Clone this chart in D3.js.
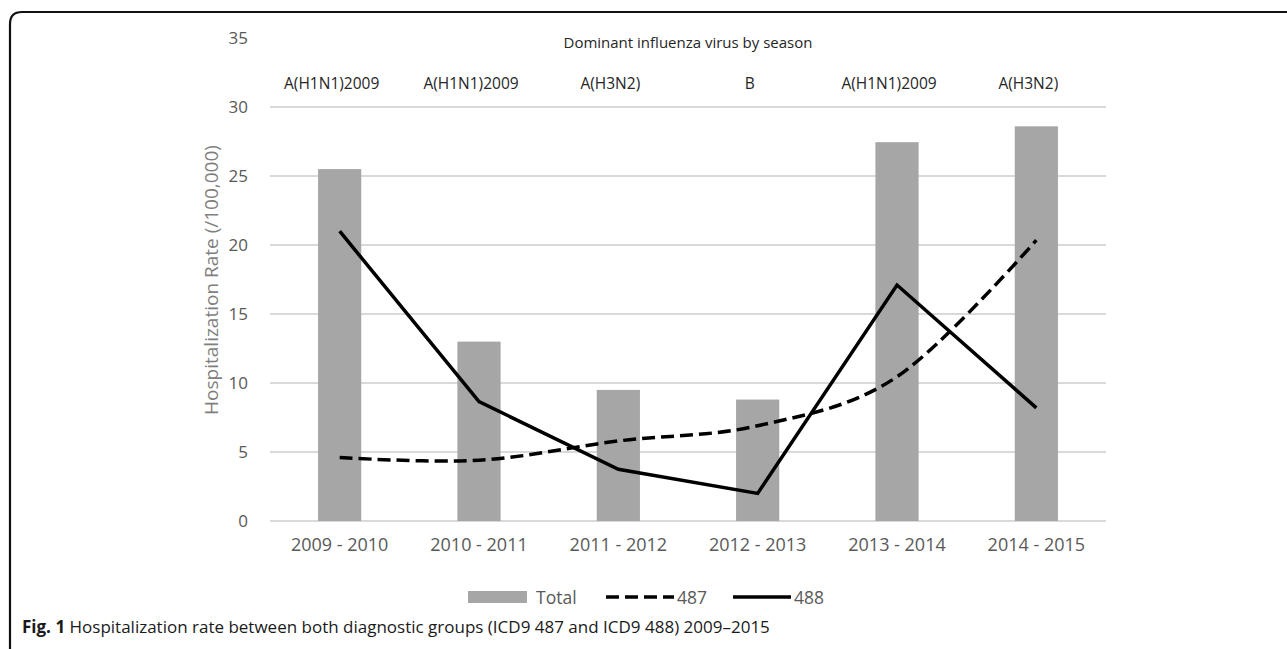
<!DOCTYPE html>
<html lang="en">
<head>
<meta charset="utf-8">
<title>Hospitalization rate</title>
<script src="https://d3js.org/d3.v7.min.js"></script>
<style>
  body { margin: 0; background: #fff; font-family: "Open Sans", "Noto Sans", sans-serif; }
  .grid line { stroke: #d9d9d9; stroke-width: 2px; }
  .tick-label { fill: #595959; }
  .bar { fill: #a6a6a6; }
  .line { fill: none; stroke: #000; stroke-width: 3.5px; }
</style>
</head>
<body>
<script>
  // data
  var seasons = ["2009 - 2010", "2010 - 2011", "2011 - 2012", "2012 - 2013", "2013 - 2014", "2014 - 2015"];
  var viruses = ["A(H1N1)2009", "A(H1N1)2009", "A(H3N2)", "B", "A(H1N1)2009", "A(H3N2)"];
  var total = [25.5, 13.0, 9.5, 8.8, 27.45, 28.6];
  var icd487 = [4.6, 4.4, 5.8, 6.9, 10.45, 20.35];
  var icd488 = [21.0, 8.65, 3.75, 2.0, 17.1, 8.2];
  var yTicks = [0, 5, 10, 15, 20, 25, 30, 35];

  var width = 1287, height = 649;
  var margin = {top: 38, right: 181, bottom: 128, left: 270};

  var svg = d3.select("body").append("svg")
    .attr("width", width)
    .attr("height", height);

  // frame round the figure (only left and top show)
  svg.append("path")
    .attr("d", "M10,660 L10,24 Q10,12 22,12 L1290,12")
    .attr("fill", "none")
    .attr("stroke", "#111")
    .attr("stroke-width", 2.2);

  var x = d3.scaleBand()
    .domain(seasons)
    .range([margin.left, width - margin.right]);

  var y = d3.scaleLinear()
    .domain([0, 35])
    .range([height - margin.bottom, margin.top]);

  // gridlines (no line at 35)
  svg.append("g").attr("class", "grid")
    .selectAll("line")
    .data(yTicks.filter(function(d){ return d < 35; }))
    .enter().append("line")
    .attr("x1", margin.left)
    .attr("x2", width - margin.right)
    .attr("y1", function(d){ return y(d); })
    .attr("y2", function(d){ return y(d); });

  // y axis labels
  var yAxis = d3.axisLeft(y).tickValues(yTicks).tickSize(0).tickPadding(22);
  var gy = svg.append("g")
    .attr("transform", "translate(" + margin.left + ",0)")
    .call(yAxis);
  gy.select(".domain").remove();
  gy.selectAll("text")
    .attr("class", "tick-label")
    .style("font-size", "17px")
    .style("font-family", "'Open Sans', sans-serif");

  // x axis labels
  var xAxis = d3.axisBottom(x).tickSize(0).tickPadding(17);
  var gx = svg.append("g")
    .attr("transform", "translate(0," + y(0) + ")")
    .call(xAxis);
  gx.select(".domain").remove();
  gx.selectAll("text")
    .attr("class", "tick-label")
    .style("font-size", "18px")
    .style("font-family", "'Open Sans', sans-serif");

  // y title
  svg.append("text")
    .attr("transform", "translate(211,280) rotate(-90)")
    .attr("text-anchor", "middle")
    .attr("dominant-baseline", "central")
    .attr("fill", "#7f7f7f")
    .style("font-size", "19px")
    .text("Hospitalization Rate (/100,000)");

  // bars
  var barW = x.bandwidth() * 0.31;
  svg.append("g").selectAll("rect")
    .data(total)
    .enter().append("rect")
    .attr("class", "bar")
    .attr("x", function(d, i){ return x(seasons[i]) + x.bandwidth() / 2 - barW / 2; })
    .attr("width", barW)
    .attr("y", function(d){ return y(d); })
    .attr("height", function(d){ return y(0) - y(d); });

  var cx = function(d, i){ return x(seasons[i]) + x.bandwidth() / 2; };

  // 487 (smoothed, dashed)
  svg.append("path")
    .datum(icd487)
    .attr("class", "line")
    .attr("stroke-dasharray", "13,6")
    .attr("d", d3.line().x(cx).y(function(d){ return y(d); }).curve(d3.curveCatmullRom.alpha(0)));

  // 488 (solid)
  svg.append("path")
    .datum(icd488)
    .attr("class", "line")
    .attr("d", d3.line().x(cx).y(function(d){ return y(d); }));

  // top annotation
  svg.append("text")
    .attr("x", (margin.left + width - margin.right) / 2)
    .attr("y", 42)
    .attr("text-anchor", "middle")
    .attr("dominant-baseline", "central")
    .attr("fill", "#262626")
    .style("font-size", "15px")
    .text("Dominant influenza virus by season");

  svg.append("g").selectAll("text")
    .data(viruses)
    .enter().append("text")
    .attr("x", function(d, i){ return cx(d, i) - 8; })
    .attr("y", 83)
    .attr("text-anchor", "middle")
    .attr("dominant-baseline", "central")
    .attr("fill", "#262626")
    .style("font-size", "15.5px")
    .text(function(d){ return d; });

  // legend
  var lg = svg.append("g").attr("transform", "translate(0,597)");
  lg.append("rect").attr("x", 468).attr("y", -6).attr("width", 59).attr("height", 12).attr("fill", "#a6a6a6");
  lg.append("text").attr("x", 536).attr("y", 0).attr("dominant-baseline", "central")
    .attr("class", "tick-label").style("font-size", "17.5px").text("Total");
  lg.append("line").attr("x1", 606).attr("x2", 674).attr("y1", 0).attr("y2", 0)
    .attr("stroke", "#000").attr("stroke-width", 3.5).attr("stroke-dasharray", "13,6");
  lg.append("text").attr("x", 677).attr("y", 0).attr("dominant-baseline", "central")
    .attr("class", "tick-label").style("font-size", "17.5px").text("487");
  lg.append("line").attr("x1", 733).attr("x2", 791).attr("y1", 0).attr("y2", 0)
    .attr("stroke", "#000").attr("stroke-width", 3.5);
  lg.append("text").attr("x", 794).attr("y", 0).attr("dominant-baseline", "central")
    .attr("class", "tick-label").style("font-size", "17.5px").text("488");

  // caption
  var cap = svg.append("text")
    .attr("x", 22)
    .attr("y", 633)
    .attr("fill", "#1a1a1a")
    .style("font-family", "'Open Sans', sans-serif")
    .style("font-size", "17px");
  cap.append("tspan").attr("font-weight", "bold").text("Fig. 1");
  cap.append("tspan").text(" Hospitalization rate between both diagnostic groups (ICD9 487 and ICD9 488) 2009\u20132015");
</script>
</body>
</html>
